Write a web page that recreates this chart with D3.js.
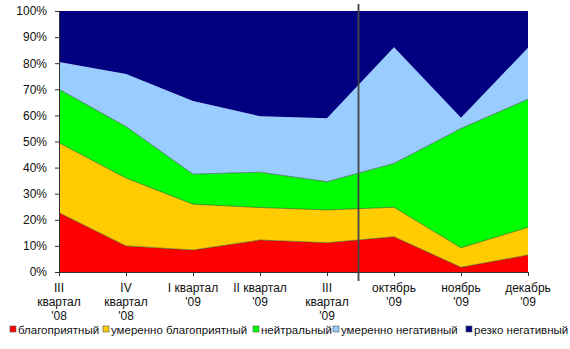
<!DOCTYPE html>
<html>
<head>
<meta charset="utf-8">
<script src="https://cdn.jsdelivr.net/npm/d3@7"></script>
<style>
  body { margin: 0; background: #fff; }
  text { font-family: "Liberation Sans", Arial, sans-serif; font-size: 12px; fill: #111; }
</style>
</head>
<body>
<div id="container"></div>
<script>
/**
 * DATA
 * */
const categories = [
  ["III", "квартал", "'08"],
  ["IV", "квартал", "'08"],
  ["I квартал", "'09"],
  ["II квартал", "'09"],
  ["III", "квартал", "'09"],
  ["октябрь", "'09"],
  ["ноябрь", "'09"],
  ["декабрь", "'09"]
];
const seriesNames = ["благоприятный", "умеренно благоприятный", "нейтральный", "умеренно негативный", "резко негативный"];
const favorable    = [22.7, 10.0, 8.4, 12.3, 11.2, 13.5, 1.8, 6.5];
const modFavorable = [26.8, 26.0, 17.6, 12.5, 12.6, 11.3, 7.5, 10.6];
const neutral      = [20.5, 19.7, 11.5, 13.6, 10.8, 16.8, 45.7, 49.1];
const modNegative  = [10.5, 20.2, 28.0, 21.5, 24.3, 44.5, 4.1, 19.7];
const negative     = [19.5, 24.1, 34.5, 40.5, 41.1, 13.9, 40.9, 14.1];
const yTicks = [0, 10, 20, 30, 40, 50, 60, 70, 80, 90, 100];
const colors = ["#ff0000", "#ffcc00", "#00ff00", "#99ccff", "#000080"];

/**
 * CONSTANTS
 * */
const width = 570, height = 349;
const margin = {top: 11, left: 59, right: 42, bottom: 77};
const legendX = [10, 103, 253, 333, 466]; // left edge of each legend swatch

const svg = d3.select("#container").append("svg")
  .attr("width", width)
  .attr("height", height);

const rows = categories.map((c, i) => ({
  i: i,
  s0: favorable[i], s1: modFavorable[i], s2: neutral[i], s3: modNegative[i], s4: negative[i]
}));
const keys = ["s0", "s1", "s2", "s3", "s4"];

const x = d3.scaleLinear()
  .domain([0, categories.length - 1])
  .range([margin.left, width - margin.right]);

const y = d3.scaleLinear()
  .domain([0, 100])
  .range([height - margin.bottom, margin.top]);

const stack = d3.stack().keys(keys).offset(d3.stackOffsetExpand);
const layers = stack(rows);

const area = d3.area()
  .x(d => x(d.data.i))
  .y0(d => y(d[0] * 100))
  .y1(d => y(d[1] * 100));

svg.selectAll("path.layer")
  .data(layers)
  .join("path")
  .attr("class", "layer")
  .attr("d", area)
  .attr("fill", (d, i) => colors[i]);

// thin border lines on top of the lower series
const topLine = d3.line()
  .x(d => x(d.data.i))
  .y(d => y(d[1] * 100));

svg.selectAll("path.edge")
  .data(layers.slice(0, 3))
  .join("path")
  .attr("class", "edge")
  .attr("d", topLine)
  .attr("fill", "none")
  .attr("stroke", "#2a4a2a")
  .attr("stroke-opacity", 0.7)
  .attr("stroke-width", 0.8);

// y axis
const yAxis = d3.axisLeft(y)
  .tickValues(yTicks)
  .tickFormat(d => d + "%")
  .tickSize(4)
  .tickPadding(8);

const yg = svg.append("g")
  .attr("transform", `translate(${margin.left},0)`)
  .call(yAxis);
yg.select(".domain").attr("stroke", "#333");
yg.selectAll(".tick line").attr("stroke", "#333");
yg.selectAll(".tick text")
  .style("font-size", "12px")
  .attr("fill", "#111");

// x axis
const xAxis = d3.axisBottom(x)
  .tickValues(d3.range(categories.length))
  .tickSize(4)
  .tickFormat("");

const xg = svg.append("g")
  .attr("transform", `translate(0,${height - margin.bottom})`)
  .call(xAxis);
xg.select(".domain").attr("stroke", "#333");
xg.selectAll(".tick line").attr("stroke", "#333");

const labels = svg.append("g").selectAll("text")
  .data(categories)
  .join("text")
  .attr("text-anchor", "middle")
  .attr("x", (d, i) => x(i))
  .attr("y", 292);

labels.selectAll("tspan")
  .data(d => d)
  .join("tspan")
  .attr("x", function () { return d3.select(this.parentNode).attr("x"); })
  .attr("dy", (d, i) => i === 0 ? 0 : 14)
  .text(d => d);

// separator line between quarters and months
const sepX = (x(4) + x(5)) / 2 - 2;
svg.append("line")
  .attr("x1", sepX).attr("x2", sepX)
  .attr("y1", 4).attr("y2", 281)
  .attr("stroke", "#444")
  .attr("stroke-width", 1.8);

// legend
const legend = svg.append("g").attr("transform", "translate(0,334)");
seriesNames.forEach((name, i) => {
  legend.append("rect")
    .attr("x", legendX[i]).attr("y", -8)
    .attr("width", 6).attr("height", 6)
    .attr("fill", colors[i])
    .attr("stroke", "#555")
    .attr("stroke-width", 0.6);
  legend.append("text")
    .attr("x", legendX[i] + 8)
    .attr("y", 0)
    .style("font-size", "11.5px")
    .text(name);
});
</script>
</body>
</html>
